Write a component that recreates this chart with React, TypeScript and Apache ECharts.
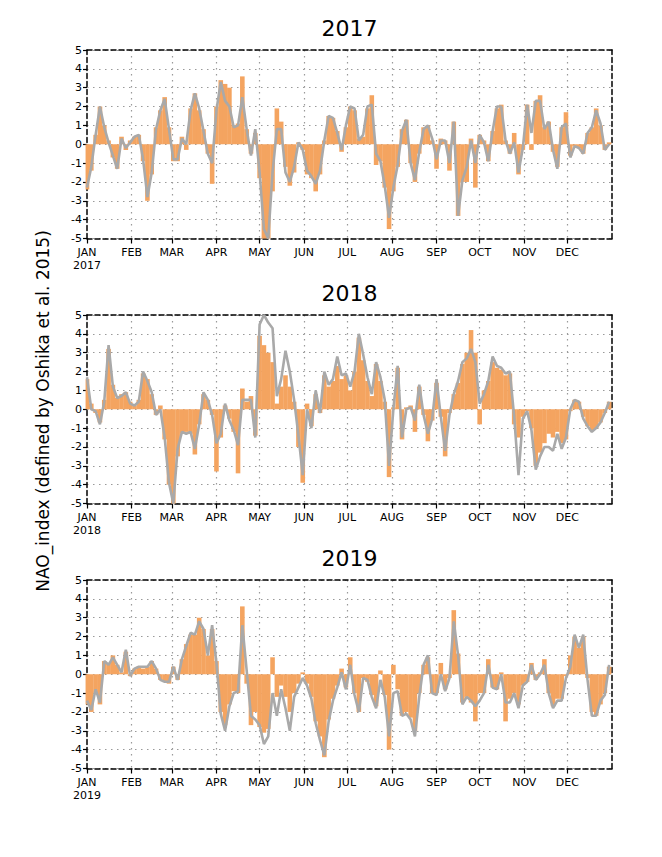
import React, { useEffect, useRef } from "react";
import * as echarts from "echarts";

// ---- data (values sampled every 3 days, day 0 = Jan 1) ----
const STEP = 3;
const YEARS = ["2017", "2018", "2019"];
const MONTH_STARTS = [0, 31, 59, 90, 120, 151, 181, 212, 243, 273, 304, 334];
const MONTH_LABELS = ["JAN", "FEB", "MAR", "APR", "MAY", "JUN", "JUL", "AUG", "SEP", "OCT", "NOV", "DEC"];
const Y_TICKS = [-5, -4, -3, -2, -1, 0, 1, 2, 3, 4, 5];

const line2017 = [
  -2.3, -1.2, 0.5, 2.0, 0.9, 0.1, -0.6, -1.3, 0.3, -0.2,
  0.1, 0.4, 0.5, -0.8, -2.8, -1.5, 0.8, 1.8, 2.4, 0.8,
  -0.8, -0.8, 0.3, 0.0, 1.8, 2.7, 1.9, 0.7, -0.5, -1.0,
  1.8, 3.3, 2.3, 2.0, 0.9, 1.0, 2.5, 0.8, -0.6, 0.8,
  -1.5, -4.5, -5.0, -1.5, 0.8, 0.8, -1.5, -2.0, -1.2, 0.1,
  -0.3, -1.4, -1.7, -2.1, -1.4, 0.2, 1.5, 1.4, 0.6, -0.3,
  1.0, 2.0, 1.9, 0.2, 0.5, 2.0, 2.1, -0.5, -0.9, -2.2,
  -3.9, -2.3, -1.1, 0.7, 1.3, -1.0, -1.9, -0.4, 0.8, 1.0,
  0.3, -0.8, 0.2, 0.2, -1.0, 1.2, -3.8, -1.9, -1.2, 0.2,
  -1.0, 0.5, 0.1, -0.9, 0.7, 2.0, 2.0, 0.2, -0.5, 0.1,
  -1.5, -0.2, 2.1, 0.6, 2.3, 2.3, 0.8, 1.2, -0.3, -1.3,
  0.9, 1.1, -0.7, -0.1, -0.2, -0.5, 0.6, 0.9, 1.8, 1.1,
  -0.3, 0.0,
];
const bars2017 = [
  -2.4, -1.4, 0.5, 2.0, 1.0, 0.2, -0.7, -1.3, 0.4, -0.3,
  0.2, 0.4, 0.5, -0.9, -3.0, -1.6, 0.9, 1.8, 2.5, 0.9,
  -0.9, -0.9, 0.4, -0.3, 1.9, 2.7, 1.8, 0.8, -0.5, -2.1,
  2.0, 3.4, 3.2, 3.0, 1.0, 1.1, 3.6, 0.8, -0.5, 0.6,
  -1.8, -5.0, -5.0, -2.5, 1.9, 1.2, -1.2, -2.2, -1.5, 0.1,
  -0.3, -1.6, -1.8, -2.5, -1.6, 0.2, 1.5, 1.4, 0.7, -0.4,
  0.9, 2.0, 1.8, 0.3, 0.4, 1.9, 2.6, -1.1, -0.9, -2.3,
  -4.5, -2.5, -1.2, 0.8, 1.3, -1.0, -2.0, -0.5, 0.9, 1.0,
  0.2, -1.3, 0.3, 0.2, -1.4, 1.2, -3.8, -2.0, -2.0, 0.3,
  -2.3, 0.5, 0.2, -0.9, 0.7, 1.9, 2.1, 0.2, -0.5, 0.6,
  -1.6, -0.3, 2.1, -0.3, 2.3, 2.6, 0.9, 1.2, -0.4, -1.2,
  0.9, 1.7, -0.6, -0.1, -0.2, -0.5, 0.6, 0.9, 1.9, 1.0,
  -0.3, 0.1,
];

const line2018 = [
  1.7, 0.0, -0.1, -0.8, 0.4, 3.4, 1.2, 0.6, 0.7, 0.9,
  0.3, 0.2, 0.4, 2.0, 1.5, 0.9, -0.3, 0.0, -1.5, -3.9,
  -5.0, -2.1, -1.2, -1.3, -1.2, -2.1, -0.8, 0.9, 0.5, -0.3,
  -1.8, -1.3, 0.3, -0.6, -1.1, -1.9, 0.5, 0.5, 0.5, -1.5,
  4.5, 5.0, 4.6, 4.3, 0.7, 1.6, 3.1, 2.0, 0.5, -1.4,
  -3.5, 0.0, -1.0, 1.0, -0.2, 2.0, 1.3, 1.6, 2.8, 1.8,
  1.9, 1.2, 2.0, 4.0, 2.9, 1.7, 0.8, 2.5, 1.7, 0.5,
  -3.0, 0.0, 2.3, -1.5, 0.0, 0.1, -0.6, 1.3, -0.3, -1.3,
  -0.5, 1.6, -0.4, -2.2, -0.3, 0.8, 1.5, 2.5, 2.7, 3.2,
  2.5, 0.3, 0.8, 1.5, 2.8, 2.3, 2.2, 1.9, 2.0, -0.4,
  -3.5, -0.5, -0.1, -1.1, -3.2, -2.5, -2.0, -2.0, -2.2, -1.3,
  -2.1, -1.5, 0.0, 0.5, 0.4, -0.5, -0.9, -1.2, -1.0, -0.7,
  -0.2, 0.4,
];
const bars2018 = [
  1.6, 0.3, -0.2, -0.7, 0.5, 3.2, 1.3, 0.6, 0.8, 0.9,
  0.4, 0.2, 0.5, 1.9, 1.6, 0.8, -0.3, 0.2, -1.6, -4.0,
  -5.0, -2.5, -1.3, -1.2, -1.3, -2.4, -0.8, 0.8, 0.5, -0.3,
  -3.3, -1.5, 0.2, -0.5, -1.2, -3.4, 1.1, 0.4, 0.7, -1.4,
  3.9, 3.4, 3.0, 2.5, 0.3, 1.2, 1.8, 1.2, 0.4, -2.0,
  -3.9, 0.3, -0.9, 0.8, -0.2, 1.8, 1.2, 1.5, 2.3, 1.6,
  1.8, 1.0, 2.0, 3.8, 2.6, 1.5, 0.7, 2.4, 1.5, 0.4,
  -3.6, 0.1, 2.2, -1.6, 0.1, 0.2, -1.2, 1.2, -0.3, -1.7,
  -0.6, 1.4, -0.4, -2.5, -0.2, 0.8, 1.4, 2.4, 3.0, 4.2,
  3.0, -0.8, 1.0, 1.5, 2.5, 2.2, 2.1, 1.8, 1.9, -0.8,
  -1.5, -0.4, -0.1, -1.0, -3.0, -2.3, -1.8, -1.3, -1.5, -1.2,
  -1.8, -1.6, -0.1, 0.5, 0.4, -0.4, -0.9, -1.1, -1.0, -0.7,
  -0.2, 0.4,
];

const line2019 = [
  -1.4, -1.9, -0.8, -1.5, 0.7, 0.5, 0.9, 0.5, 0.1, 1.3,
  -0.1, 0.3, 0.4, 0.4, 0.4, 0.7, 0.3, -0.3, -0.4, -0.4,
  0.4, -0.3, 0.8, 1.5, 2.2, 2.1, 2.8, 2.4, 1.0, 2.6,
  0.6, -2.1, -3.0, -1.7, -1.0, -0.9, 2.6, 0.2, -2.2, -2.4,
  -2.7, -3.7, -3.3, -1.0, -2.2, -0.8, -1.8, -3.0, -1.2, -0.7,
  -0.2, -0.6, -1.3, -2.6, -3.5, -4.3, -2.5, -1.4, -0.7, 0.1,
  -0.8, 0.5, -1.1, -2.0, -0.2, -0.3, -1.2, -1.8, -0.3, -1.2,
  -3.3, -1.0, -0.9, -2.2, -2.1, -2.4, -3.3, -1.2, 0.5, 1.0,
  -1.0, -1.1, 0.0, -0.9, -0.2, 2.8, 1.0, -1.6, -1.2, -1.4,
  -1.7, -1.4, -1.0, 0.5, -0.7, -0.8, 0.0, -1.5, -1.5, -1.0,
  -1.8, -0.6, -0.4, 0.5, -0.3, 0.0, 0.5, -1.0, -1.8, -1.4,
  -1.4, -0.2, 0.4, 2.1, 1.4, 2.1, -0.3, -2.2, -2.2, -1.4,
  -1.1, 0.5,
];
const bars2019 = [
  -1.6, -2.0, -1.0, -1.6, 0.7, 0.6, 1.0, 0.5, 0.1, 1.2,
  -0.1, 0.3, 0.4, 0.3, 0.4, 0.7, 0.3, -0.3, -0.4, -0.5,
  0.4, -0.3, 0.8, 1.6, 2.1, 2.1, 3.0, 2.4, 1.0, 2.4,
  0.7, -2.0, -2.7, -1.6, -0.9, -1.0, 3.6, -0.5, -2.7, -2.0,
  -2.8, -3.1, -2.9, 0.9, -1.2, -0.6, -1.2, -2.0, -1.0, -0.5,
  0.1, -0.5, -1.2, -2.5, -3.3, -4.4, -2.4, -1.3, -0.6, 0.3,
  -0.7, 0.9, -1.0, -2.0, -0.2, -0.4, -1.1, -1.7, 0.2, -1.1,
  -4.0, 0.5, -0.8, -2.2, -2.0, -2.3, -3.0, -1.0, 0.5, 0.9,
  -1.0, -1.0, 0.6, -0.8, -0.2, 3.4, 1.1, -1.5, -1.2, -1.5,
  -2.5, -1.0, -1.0, 0.8, -0.7, -0.8, 0.1, -2.5, -1.3, -1.0,
  -1.6, -0.6, -0.4, 0.6, -0.3, 0.1, 0.8, -1.0, -1.7, -1.3,
  -1.3, -0.1, 1.0, 2.0, 1.4, 2.0, -0.2, -2.0, -2.2, -1.6,
  -1.0, 0.4,
];

const LINES = [line2017, line2018, line2019];
const BARS = [bars2017, bars2018, bars2019];

const FONT = "DejaVu Sans";
const W = 662;
const H = 857;

export default function App() {
  const ref = useRef<HTMLDivElement>(null);

  useEffect(() => {
    if (!ref.current) return;
    const chart = echarts.init(ref.current, null, { renderer: "svg" });

    const days = Array.from({ length: 366 }, (_, i) => String(i));
    const isMonth = (i: number) => MONTH_STARTS.indexOf(i) >= 0;
    const gridLeft = 87;
    const gridWidth = 525;
    const gridTops = [50, 315, 580];
    const gridHeight = 188.5;
    const frameStyle = { color: "#000", width: 1.5, type: [5, 3] as any };
    const dotted = { color: "#9a9a9a", width: 1.2, type: [1.5, 4.5] as any };

    const grid: any[] = [];
    const xAxis: any[] = [];
    const yAxis: any[] = [];
    const series: any[] = [];
    const graphic: any[] = [];

    YEARS.forEach((year, g) => {
      grid.push({ left: gridLeft, top: gridTops[g], width: gridWidth, height: gridHeight, containLabel: false });
      xAxis.push({
        type: "category",
        gridIndex: g,
        data: days,
        boundaryGap: false,
        axisLine: { show: true, onZero: false, lineStyle: frameStyle },
        axisTick: { show: true, interval: (i: number) => isMonth(i), length: 5, lineStyle: { color: "#000", width: 1.2 } },
        axisLabel: {
          interval: (i: number) => isMonth(i),
          formatter: (_v: string, i: number) => {
            const k = MONTH_STARTS.indexOf(i);
            if (k < 0) return "";
            return k === 0 ? `${MONTH_LABELS[k]}\n${year}` : MONTH_LABELS[k];
          },
          fontFamily: FONT,
          fontSize: 11,
          color: "#000",
          margin: 7,
          lineHeight: 13,
        },
        splitLine: { show: true, interval: (i: number) => isMonth(i) && i !== 0, lineStyle: dotted },
      });
      xAxis.push({
        type: "category",
        gridIndex: g,
        data: days,
        boundaryGap: false,
        position: "top",
        axisLine: { show: true, onZero: false, lineStyle: frameStyle },
        axisTick: { show: false },
        axisLabel: { show: false },
        splitLine: { show: false },
      });
      yAxis.push({
        type: "value",
        gridIndex: g,
        min: Y_TICKS[0],
        max: Y_TICKS[Y_TICKS.length - 1],
        interval: 1,
        axisLine: { show: true, onZero: false, lineStyle: frameStyle },
        axisTick: { show: true, length: 4, lineStyle: { color: "#000", width: 1.2 } },
        axisLabel: { fontFamily: FONT, fontSize: 11, color: "#000", margin: 5 },
        splitLine: { show: true, lineStyle: dotted },
      });
      yAxis.push({
        type: "value",
        gridIndex: g,
        min: Y_TICKS[0],
        max: Y_TICKS[Y_TICKS.length - 1],
        interval: 1,
        position: "right",
        axisLine: { show: true, onZero: false, lineStyle: frameStyle },
        axisTick: { show: false },
        axisLabel: { show: false },
        splitLine: { show: false },
      });
      series.push({
        type: "bar",
        xAxisIndex: 2 * g,
        yAxisIndex: 2 * g,
        data: BARS[g].map((v, i) => [i * STEP, v]),
        barWidth: 4.6,
        itemStyle: { color: "#f4a460" },
        clip: true,
        z: 2,
      });
      series.push({
        type: "line",
        xAxisIndex: 2 * g,
        yAxisIndex: 2 * g,
        data: LINES[g].map((v, i) => [i * STEP, v]),
        showSymbol: false,
        symbol: "none",
        lineStyle: { color: "#a9a9a9", width: 2.6 },
        clip: true,
        z: 3,
      });
      graphic.push({
        type: "text",
        x: gridLeft + gridWidth / 2,
        y: gridTops[g] - 22,
        style: { text: year, fontFamily: FONT, fontSize: 22, fill: "#000", align: "center", verticalAlign: "middle" },
      });
    });

    graphic.push({
      type: "text",
      x: 43,
      y: 411,
      rotation: Math.PI / 2,
      style: {
        text: "NAO_index (defined by Oshika et al. 2015)",
        fontFamily: FONT,
        fontSize: 17,
        fill: "#000",
        align: "center",
        verticalAlign: "middle",
      },
    });

    chart.setOption({
      animation: false,
      backgroundColor: "#fff",
      grid,
      xAxis,
      yAxis,
      series,
      graphic,
    });

    return () => chart.dispose();
  }, []);

  return <div ref={ref} style={{ position: "fixed", left: 0, top: 0, width: W, height: H }} />;
}
